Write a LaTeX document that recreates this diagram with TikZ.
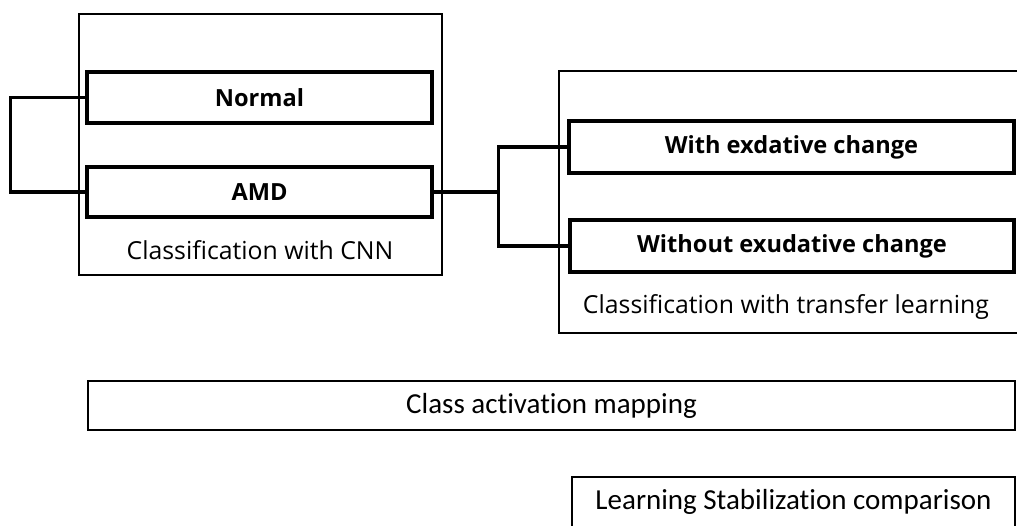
\documentclass[tikz,border=0pt]{standalone}
\usepackage{fontspec}
\setmainfont{Open Sans}
\newfontfamily\calfont[Ligatures=NoCommon]{Carlito}
\usepackage{tikz}
\usetikzlibrary{positioning,calc}

\begin{document}
\begin{tikzpicture}[x=1pt, y=-1pt,
    groupbox/.style={draw, line width=1.8pt, inner sep=0pt},
    classbox/.style={draw, line width=3.2pt, inner sep=0pt, font=\fontsize{23.6}{28}\selectfont\bfseries},
    taskbox/.style={draw, line width=2.2pt, inner sep=0pt, font=\calfont\fontsize{29}{34}\selectfont},
    caption/.style={font=\fontsize{24.8}{29}\selectfont},
    link/.style={line width=3.2pt}]
        \useasboundingbox (0,0) rectangle (1017,525);
        \clip (0,0) rectangle (1017,525);

        % CNN stage
        \node[groupbox, minimum width=363pt, minimum height=261pt] (cnnbox) at (260.5,144.5) {};
        \node[classbox, minimum width=345pt, minimum height=51pt] (normal) at (259.5,97.5) {Normal};
        \node[classbox, minimum width=345pt, minimum height=50pt] (amd) at (259.5,192) {AMD};
        \node[caption] (cnnlabel) at (260,250) {Classification with CNN};

        % Transfer learning stage
        \node[groupbox, minimum width=471pt, minimum height=262pt] (transferbox) at (794.5,202) {};
        \node[classbox, minimum width=445pt, minimum height=52pt] (withex) at (791.5,147) {With exdative change};
        \node[classbox, minimum width=444pt, minimum height=52pt] (withoutex) at (792,246) {Without exudative change};
        \node[caption] (transferlabel) at (786,307) {Classification with transfer learning};

        % Connectors
        \draw[link] (normal.west) -- ++(-75,0) |- (amd.west);
        \draw[link] (amd.east) -- ++(65,0) coordinate (fork);
        \draw[link] (withex.west) -| (fork) |- (withoutex.west);

        % Further steps
        \node[taskbox, minimum width=927pt, minimum height=49pt] (cam) at (551.5,405.5) {Class activation mapping};
        \node[taskbox, minimum width=443pt, minimum height=50pt] (stability) at (793.5,502) {Learning Stabilization comparison};
\end{tikzpicture}
\end{document}
